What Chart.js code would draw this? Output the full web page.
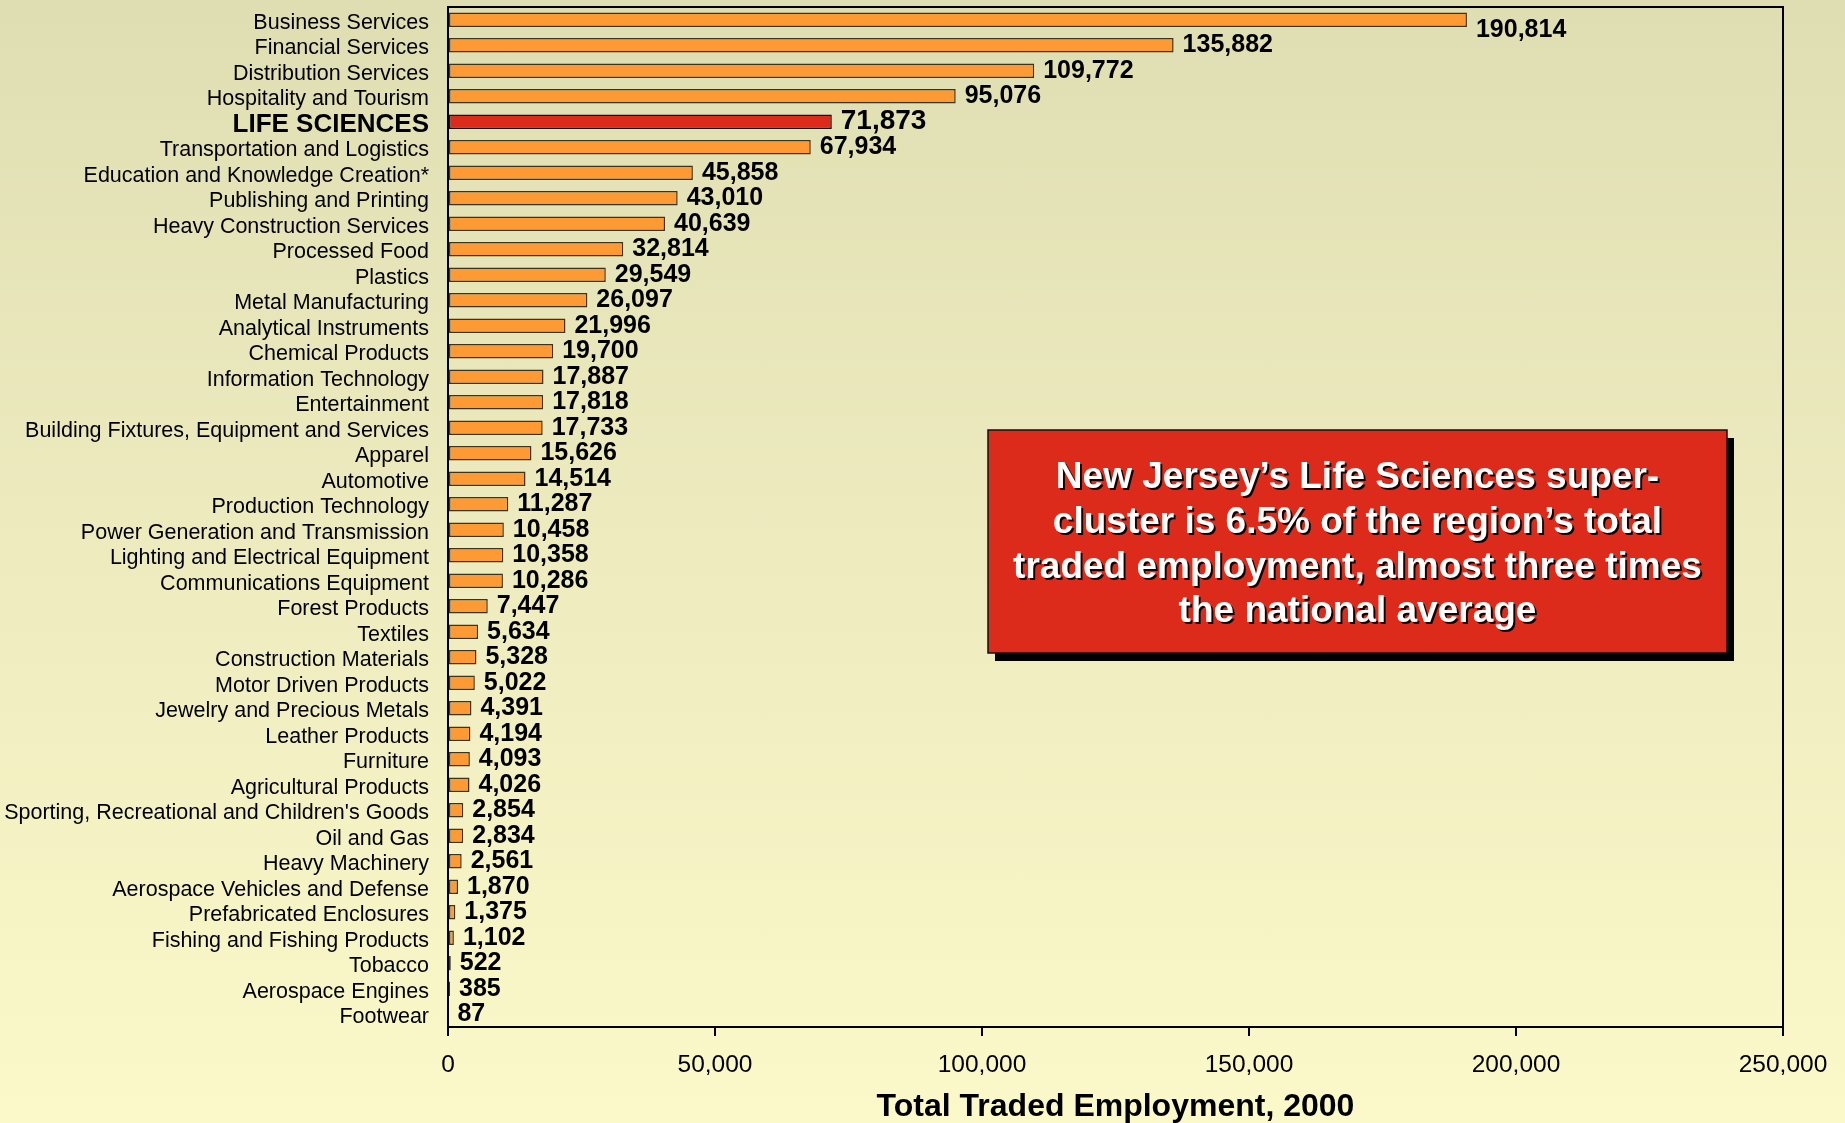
<!DOCTYPE html>
<html>
<head>
<meta charset="utf-8">
<title>Total Traded Employment, 2000</title>
<script src="https://cdn.jsdelivr.net/npm/chart.js@4/dist/chart.umd.min.js"></script>
<style>
  html, body { margin: 0; padding: 0; }
  body {
    width: 1845px;
    height: 1123px;
    overflow: hidden;
    background: linear-gradient(to bottom, #dfdeb2 0%, #eeecbf 50%, #fbf9c9 100%);
  }
  #wrap { position: relative; width: 1845px; height: 1123px; }
</style>
</head>
<body>
<div id="wrap"><canvas id="clusterChart"></canvas></div>
<script>
// Cluster names, top to bottom
const clusters = [
  "Business Services",
  "Financial Services",
  "Distribution Services",
  "Hospitality and Tourism",
  "LIFE SCIENCES",
  "Transportation and Logistics",
  "Education and Knowledge Creation*",
  "Publishing and Printing",
  "Heavy Construction Services",
  "Processed Food",
  "Plastics",
  "Metal Manufacturing",
  "Analytical Instruments",
  "Chemical Products",
  "Information Technology",
  "Entertainment",
  "Building Fixtures, Equipment and Services",
  "Apparel",
  "Automotive",
  "Production Technology",
  "Power Generation and Transmission",
  "Lighting and Electrical Equipment",
  "Communications Equipment",
  "Forest Products",
  "Textiles",
  "Construction Materials",
  "Motor Driven Products",
  "Jewelry and Precious Metals",
  "Leather Products",
  "Furniture",
  "Agricultural Products",
  "Sporting, Recreational and Children's Goods",
  "Oil and Gas",
  "Heavy Machinery",
  "Aerospace Vehicles and Defense",
  "Prefabricated Enclosures",
  "Fishing and Fishing Products",
  "Tobacco",
  "Aerospace Engines",
  "Footwear"
];

// Traded employment per cluster
const employment = [
  190814, 135882, 109772, 95076, 71873, 67934, 45858, 43010, 40639, 32814,
  29549, 26097, 21996, 19700, 17887, 17818, 17733, 15626, 14514, 11287,
  10458, 10358, 10286, 7447, 5634, 5328, 5022, 4391, 4194, 4093,
  4026, 2854, 2834, 2561, 1870, 1375, 1102, 522, 385, 87
];

const highlight = "LIFE SCIENCES";
const axisTitle = "Total Traded Employment, 2000";
const xMin = 0;
const xMax = 250000;
const xStep = 50000;

const calloutLines = [
  "New Jersey\u2019s Life Sciences super-",
  "cluster is 6.5% of the region\u2019s total",
  "traded employment, almost three times",
  "the national average"
];

const FONT = '"Liberation Sans", Arial, Helvetica, sans-serif';
const ORANGE = "#fe9a34";
const RED = "#dc2a1b";

const fmt = (v) => v.toLocaleString("en-US");
const isHighlight = (i) => clusters[i] === highlight;

Chart.defaults.font.family = FONT;
Chart.defaults.color = "#000";

// numbers at the end of each bar
const valueLabels = {
  id: "valueLabels",
  afterDatasetsDraw(chart) {
    const { ctx } = chart;
    const meta = chart.getDatasetMeta(0);
    ctx.save();
    ctx.fillStyle = "#000";
    ctx.textAlign = "left";
    ctx.textBaseline = "middle";
    meta.data.forEach((bar, i) => {
      ctx.font = "bold " + (isHighlight(i) ? 28 : 25) + "px " + FONT;
      // the top label sits a bit below its bar in the original
      const dy = i === 0 ? 10 : 0;
      ctx.fillText(fmt(employment[i]), bar.x + 9, bar.y + dy);
    });
    ctx.restore();
  }
};

// black frame around the plot area
const plotFrame = {
  id: "plotFrame",
  afterDraw(chart) {
    const { ctx, chartArea: a } = chart;
    ctx.save();
    ctx.strokeStyle = "#000";
    ctx.lineWidth = 2;
    ctx.strokeRect(a.left, a.top, a.right - a.left, a.bottom - a.top);
    ctx.restore();
  }
};

// red callout box with shadow
const callout = {
  id: "callout",
  afterDraw(chart) {
    const { ctx } = chart;
    const x = 988, y = 430, w = 739, h = 223;
    ctx.save();
    ctx.fillStyle = "#000";
    ctx.fillRect(x + 7, y + 8, w, h);
    ctx.fillStyle = RED;
    ctx.fillRect(x, y, w, h);
    ctx.strokeStyle = "#111";
    ctx.lineWidth = 1.5;
    ctx.strokeRect(x, y, w, h);

    ctx.font = "bold 37px " + FONT;
    ctx.textAlign = "center";
    ctx.textBaseline = "middle";
    ctx.fillStyle = "#fff";
    ctx.shadowColor = "rgba(0,0,0,0.9)";
    ctx.shadowOffsetX = 2;
    ctx.shadowOffsetY = 2;
    ctx.shadowBlur = 0;
    calloutLines.forEach((line, i) => {
      ctx.fillText(line, x + w / 2, y + 48 + i * 44.7);
    });
    ctx.restore();
  }
};

const ctx = document.getElementById("clusterChart").getContext("2d");

new Chart(ctx, {
  type: "bar",
  data: {
    labels: clusters,
    datasets: [
      {
        label: axisTitle,
        data: employment,
        backgroundColor: (c) => (isHighlight(c.dataIndex) ? RED : ORANGE),
        borderColor: (c) => (isHighlight(c.dataIndex) ? "#111" : "#3a3520"),
        borderWidth: 1.5,
        borderSkipped: false,
        barPercentage: 0.56,
        categoryPercentage: 1
      }
    ]
  },
  options: {
    indexAxis: "y",
    responsive: true,
    maintainAspectRatio: false,
    animation: false,
    layout: {
      padding: { left: 0, top: 7, right: 62, bottom: 0 }
    },
    plugins: {
      legend: { display: false },
      tooltip: { enabled: false },
      title: { display: false }
    },
    scales: {
      x: {
        type: "linear",
        min: xMin,
        max: xMax,
        ticks: {
          stepSize: xStep,
          maxRotation: 0,
          padding: 15,
          color: "#000",
          font: { size: 24.5 },
          callback: (v) => fmt(v)
        },
        grid: {
          display: true,
          drawOnChartArea: false,
          drawTicks: true,
          tickLength: 9,
          color: "#000",
          lineWidth: 2
        },
        border: { display: false },
        title: {
          display: true,
          text: axisTitle,
          color: "#000",
          font: { size: 32, weight: "bold", lineHeight: 1.0 },
          padding: { top: 0, bottom: 0 }
        },
        afterFit: (scale) => {
          scale.height = 96;
        }
      },
      y: {
        type: "category",
        offset: true,
        grid: { display: false, drawTicks: false },
        border: { display: false },
        ticks: {
          autoSkip: false,
          padding: 19,
          labelOffset: 3,
          color: "#000",
          font: (c) =>
            isHighlight(c.index)
              ? { size: 26, weight: "bold" }
              : { size: 21.5, weight: "normal" }
        },
        afterFit: (scale) => {
          scale.width = 448;
          scale.paddingTop = 0;
          scale.paddingBottom = 0;
        }
      }
    }
  },
  plugins: [valueLabels, plotFrame, callout]
});
</script>
</body>
</html>
